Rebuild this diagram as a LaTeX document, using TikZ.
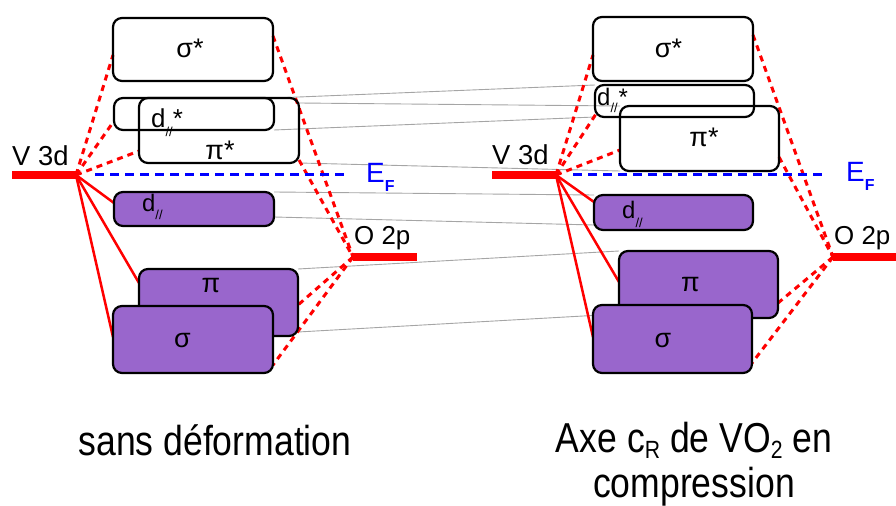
\documentclass[tikz,border=0pt]{standalone}
\usepackage{fontspec}
\setmainfont{Liberation Sans}
\newfontfamily\narrowfont[FakeStretch=0.85]{Liberation Sans}
\usetikzlibrary{calc,backgrounds}
\definecolor{mopurple}{RGB}{153,102,204}
\definecolor{linkgrey}{RGB}{165,165,165}
\newcommand{\subsl}[1]{\raisebox{#1}{\fontsize{13}{13}\selectfont //}}
\newcommand{\capsub}[1]{\smash{\raisebox{-6bp}{\fontsize{25}{25}\selectfont #1}}}
\tikzset{
  orb/.style={draw=black, line width=2.2bp, rounded corners=9bp, inner sep=0pt, outer sep=0pt},
  bond/.style={orb, fill=mopurple},
  lvl/.style={fill=red, minimum height=8bp, inner sep=0pt, outer sep=0pt},
  lab/.style={font=\fontsize{26}{26}\selectfont, inner sep=0pt},
  glab/.style={font=\fontsize{27}{27}\selectfont, inner sep=0pt, anchor=base},
  hyb/.style={red, line width=3bp, dash pattern=on 6bp off 5bp},
  bnd/.style={red, line width=2.5bp},
  corr/.style={linkgrey, line width=0.9bp},
  fermi/.style={blue, line width=3bp, dash pattern=on 9bp off 6bp},
  capt/.style={font=\narrowfont\fontsize{42}{45}\selectfont, inner sep=0pt},
}
\begin{document}
\begin{tikzpicture}[x=1bp,y=-1bp]
\useasboundingbox (0,0) rectangle (896,506);

% ---------- left: sans deformation ----------
\node[orb, minimum width=160bp, minimum height=63bp] (lss) at (193,49.5) {};
\node[orb, minimum width=160bp, minimum height=65bp] (lpps) at (219,130.5) {};
\node[orb, minimum width=160bp, minimum height=32bp] (ldds) at (194,114) {};
\node[bond, minimum width=160bp, minimum height=34bp] (ldd) at (194,209) {};
\node[bond, minimum width=159bp, minimum height=67bp] (lp) at (218.5,302.5) {};
\node[bond, minimum width=160bp, minimum height=67bp] (ls) at (193,339.5) {};

\node[lvl, minimum width=64bp] (lv) at (44,175) {};
\node[lvl, minimum width=64bp] (lo) at (385,257) {};

% ---------- right: compression ----------
\node[orb, minimum width=160bp, minimum height=64bp] (rss) at (673,49) {};
\node[orb, minimum width=159bp, minimum height=32bp] (rdds) at (674.5,101) {};
\node[orb, minimum width=159bp, minimum height=65bp] (rpps) at (699.5,138.5) {};
\node[bond, minimum width=159bp, minimum height=35bp] (rdd) at (673.5,212.5) {};
\node[bond, minimum width=159bp, minimum height=67bp] (rp) at (698.5,284.5) {};
\node[bond, minimum width=159bp, minimum height=68bp] (rs) at (672.5,339) {};

\node[lvl, minimum width=64bp] (rv) at (524,175) {};
\node[lvl, minimum width=63bp] (ro) at (864.5,257) {};

\coordinate (lef1) at (95,175);
\coordinate (lef2) at (347,175);
\coordinate (ref1) at (573,175);
\coordinate (ref2) at (827,175);

\begin{scope}[on background layer]
  % correlation lines
  \draw[corr] (ldds.north east) -- (rdds.north west);
  \draw[corr] ($(lpps.north east)+(0,5)$) -- (rpps.north west);
  \draw[corr] (ldds.south east) -- (rdds.south west);
  \draw[corr] (lpps.south east) -- (rpps.south west);
  \draw[corr] (ldd.north east) -- (rdd.north west);
  \draw[corr] ($(ldd.east)+(0,8)$) -- ($(rdd.south west)+(0,-5)$);
  \draw[corr] (lp.north east) -- (rp.north west);
  \draw[corr] ($(lp.south east)+(0,-4)$) -- ($(rp.south west)+(0,-4)$);
  % left hybridisation
  \draw[hyb] (lv.east) -- ($(lss.west)+(0,5.5)$);
  \draw[hyb] (lv.east) -- ($(ldds.west)+(0,7)$);
  \draw[hyb] (lv.east) -- ($(lpps.west)+(0,20.5)$);
  \draw[bnd] (lv.east) -- ($(ldd.west)+(0,-6)$);
  \draw[bnd] (lv.east) -- ($(lp.west)+(0,-19.5)$);
  \draw[bnd] (lv.east) -- ($(ls.west)+(0,-2.5)$);
  \draw[hyb] ($(lss.east)+(0,-13.5)$) -- (lo.west);
  \draw[hyb] ($(lpps.east)+(0,29.5)$) -- (lo.west);
  \draw[hyb] (lo.west) -- ($(lp.east)+(0,2.5)$);
  \draw[hyb] (lo.west) -- ($(ls.east)+(0,25.5)$);
  % right hybridisation
  \draw[hyb] (rv.east) -- ($(rss.west)+(0,6)$);
  \draw[hyb] (rv.east) -- ($(rdds.west)+(1,13)$);
  \draw[hyb] (rv.east) -- ($(rpps.west)+(0,11.5)$);
  \draw[bnd] (rv.east) -- ($(rdd.west)+(0,-10.5)$);
  \draw[bnd] (rv.east) -- ($(rp.west)+(0,-2.5)$);
  \draw[bnd] (rv.east) -- ($(rs.west)+(0,-2)$);
  \draw[hyb] ($(rss.east)+(0,-14)$) -- (ro.west);
  \draw[hyb] ($(rpps.east)+(0,18.5)$) -- (ro.west);
  \draw[hyb] (ro.west) -- ($(rp.east)+(0,18.5)$);
  \draw[hyb] (ro.west) -- ($(rs.east)+(0,24)$);
\end{scope}

\draw[fermi] (lef1) -- (lef2);
\draw[fermi] (ref1) -- (ref2);

% ---------- labels ----------
\node[glab] (lssl) at (190,58) {σ*};
\node[glab] (lppsl) at (220,160) {π*};
\node[lab, anchor=base west] (lddsl) at (151,128) {d\subsl{-9bp}*};
\node[lab, anchor=base west, font=\fontsize{24}{24}\selectfont] (lddl) at (142,212) {d\subsl{-8bp}};
\node[glab] (lpl) at (211,293) {π};
\node[glab] (lsl) at (182.5,348) {σ};

\node[glab] (rssl) at (668.5,58) {σ*};
\node[glab] (rppsl) at (704,147) {π*};
\node[lab, anchor=base west, font=\fontsize{24}{24}\selectfont] (rddsl) at (597,106) {d\rlap{\subsl{-7bp}}\hspace{8bp}*};
\node[lab, anchor=base west, font=\fontsize{24}{24}\selectfont] (rddl) at (622,219) {d\subsl{-9bp}};
\node[glab] (rpl) at (690.5,292) {π};
\node[glab] (rsl) at (663,348) {σ};

\node[lab, anchor=base west, font=\fontsize{27.5}{27.5}\selectfont] (lvl) at (12,166) {V 3d};
\node[lab, anchor=base west, font=\fontsize{27.5}{27.5}\selectfont] (rvl) at (492,165) {V 3d};
\node[lab, anchor=base west] (lol) at (354,245) {O 2p};
\node[lab, anchor=base west] (rol) at (834,245) {O 2p};
\node[lab, anchor=base west, text=blue, font=\fontsize{28}{28}\selectfont] (lefl) at (366,183) {E\raisebox{-9bp}{\fontsize{16}{16}\selectfont\bfseries F}};
\node[lab, anchor=base west, text=blue, font=\fontsize{28}{28}\selectfont] (refl) at (846,182) {E\raisebox{-9bp}{\fontsize{16}{16}\selectfont\bfseries F}};

\node[capt, anchor=base] (cap1) at (215,455) {sans déformation};
\node[capt, align=center, anchor=center] (cap2) at (694,464) {Axe c\capsub{R} de VO\capsub{2} en\\compression};
\end{tikzpicture}
\end{document}
